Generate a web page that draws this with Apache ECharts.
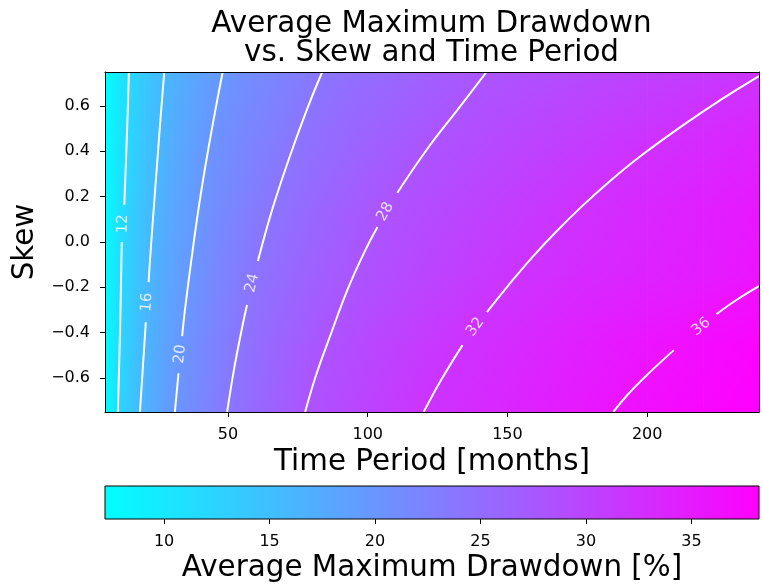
<!DOCTYPE html>
<html>
<head>
<meta charset="utf-8">
<script src="https://cdn.jsdelivr.net/npm/echarts@6/dist/echarts.min.js"></script>
<style>
  html, body { margin: 0; padding: 0; background: #fff; }
  #chart { width: 763px; height: 587px; }
</style>
</head>
<body>
<div id="chart"></div>
<script>
// grid nodes (months x skew)
const timeNodes = [6, 12, 20, 30, 45, 60, 80, 100, 120, 140, 160, 180, 200, 220, 240];
const skewNodes = [0.75, 0.45, 0.15, -0.15, -0.45, -0.75];
// average max drawdown [%] per skew row, one value per time node
const ddSkewP075 = [7.2, 10.7, 13.7, 16.5, 19.4, 21.3, 23.6, 25.1, 26.5, 27.8, 28.7, 29.5, 30.3, 31.1, 31.9];
const ddSkewP045 = [7.3, 11.0, 14.3, 17.2, 20.3, 22.4, 24.6, 26.3, 27.9, 29.0, 30.1, 31.1, 32.2, 33.1, 34.0];
const ddSkewP015 = [7.4, 11.5, 14.9, 17.8, 21.0, 23.3, 25.6, 27.6, 29.0, 30.2, 31.4, 32.5, 33.5, 34.4, 35.3];
const ddSkewM015 = [7.5, 12.0, 15.4, 18.4, 21.6, 24.2, 26.4, 28.4, 29.8, 31.3, 32.4, 33.3, 34.1, 34.9, 35.8];
const ddSkewM045 = [7.6, 12.3, 16.1, 19.1, 22.4, 24.9, 27.6, 29.5, 31.2, 32.5, 33.6, 34.7, 35.8, 36.8, 37.7];
const ddSkewM075 = [7.6, 12.6, 16.4, 19.7, 22.9, 25.5, 28.3, 30.1, 32.0, 33.2, 34.4, 35.5, 36.6, 37.4, 38.2];
const drawdownRows = [ddSkewP075, ddSkewP045, ddSkewP015, ddSkewM015, ddSkewM045, ddSkewM075];

// contour lines [months, skew]; null = gap left for the inline label
const contour12 = [[14.55, 0.75], [13.95, 0.513], [12.9, 0.164], null, [12.0, 0.0], [11.4, -0.375], [10.6, -0.75]];
const contour16 = [[27.2, 0.75], [26.1, 0.583], [24.75, 0.363], [23.4, 0.142], [22.1, -0.079], [21.6, -0.177], null,
  [20.6, -0.354], [19.7, -0.522], [18.5, -0.75]];
const contour20 = [[48.1, 0.75], [45.5, 0.583], [42.3, 0.363], [39.4, 0.142], [36.9, -0.079], [34.6, -0.30], [33.6, -0.415], null,
  [32.3, -0.579], [31.0, -0.75]];
const contour24 = [[83.7, 0.75], [78.2, 0.583], [71.7, 0.363], [65.8, 0.142], [60.7, -0.084], null,
  [56.8, -0.278], [55.1, -0.375], [52.3, -0.552], [49.7, -0.75]];
const contour28 = [[142.5, 0.75], [132.1, 0.583], [121.1, 0.407], [110.6, 0.217], null,
  [103.5, 0.066], [99.2, -0.035], [92.7, -0.212], [86.4, -0.42], [81.5, -0.588], [77.6, -0.75]];
const contour32 = [[120.0, -0.75], [126.2, -0.61], [133.9, -0.455], null, [142.65, -0.309], [150.4, -0.19], [158.6, -0.071],
  [167.3, 0.044], [176.4, 0.155], [186.3, 0.265], [197.3, 0.376], [212.1, 0.509], [226.4, 0.628], [240, 0.732]];
const contour36 = [[187.8, -0.75], [193.8, -0.663], [201.0, -0.574], [209.5, -0.477], null,
  [224.8, -0.318], [231.9, -0.256], [240, -0.195]];
const contours = [contour12, contour16, contour20, contour24, contour28, contour32, contour36];

// inline contour labels [months, skew, level]
const contourLabels = [[12.4, 0.08, 12], [21.0, -0.266, 16], [32.9, -0.495, 20], [58.7, -0.181, 24],
  [106.3, 0.133, 28], [138.5, -0.375, 32], [219.3, -0.374, 36]];

const xTicks = [50, 100, 150, 200];
const yTicks = [-0.6, -0.4, -0.2, 0.0, 0.2, 0.4, 0.6];
const cbarTicks = [10, 15, 20, 25, 30, 35];
const cbarRange = [7.2, 38.2];

// label angle along the line (deg, counter-clockwise)
const LABEL_ROTATE = { 12: 88, 16: 86, 20: 84, 24: 76, 28: 60, 32: 53, 36: 40 };
const FONT = 'DejaVu Sans';

// matplotlib "cool": cyan -> magenta, linear in rgb
function cool(v) {
  const t = Math.min(1, Math.max(0, (v - cbarRange[0]) / (cbarRange[1] - cbarRange[0])));
  return 'rgb(' + Math.round(255 * t) + ',' + Math.round(255 * (1 - t)) + ',255)';
}

// colour stops for a value running v1 -> v2, clamped to the colour bar
function stopsFor(v1, v2) {
  const stops = [{ offset: 0, color: cool(v1) }, { offset: 1, color: cool(v2) }];
  const span = v2 - v1;
  if (span > 0) {
    [cbarRange[0], cbarRange[1]].forEach(lim => {
      const o = (lim - v1) / span;
      if (o > 0 && o < 1) stops.push({ offset: o, color: cool(lim) });
    });
  }
  return stops.sort((a, b) => a.offset - b.offset);
}

const cells = [];
for (let j = 0; j < skewNodes.length - 1; j++) {
  for (let i = 0; i < timeNodes.length - 1; i++) {
    cells.push([timeNodes[i], timeNodes[i + 1], skewNodes[j], skewNodes[j + 1],
      drawdownRows[j][i], drawdownRows[j][i + 1], drawdownRows[j + 1][i], drawdownRows[j + 1][i + 1]]);
  }
}

// each cell shaded as a plane fitted to its four corner values
function renderCell(params, api) {
  const pA = api.coord([api.value(0), api.value(2)]);
  const pB = api.coord([api.value(1), api.value(3)]);
  const x = Math.min(pA[0], pB[0]), y = Math.min(pA[1], pB[1]);
  const w = Math.abs(pB[0] - pA[0]), h = Math.abs(pB[1] - pA[1]);
  const tl = api.value(4), tr = api.value(5), bl = api.value(6), br = api.value(7);
  const gx = ((tr - tl) + (br - bl)) / (2 * w);
  const gy = ((bl - tl) + (br - tr)) / (2 * h);
  const vc = (tl + tr + bl + br) / 4;
  const cx = x + w / 2, cy = y + h / 2;
  const g = Math.hypot(gx, gy);
  let fill = cool(vc);
  if (g > 1e-9) {
    const L = Math.hypot(w, h) / 2;
    const ux = gx / g, uy = gy / g;
    fill = {
      type: 'linear', global: true,
      x: cx - ux * L, y: cy - uy * L, x2: cx + ux * L, y2: cy + uy * L,
      colorStops: stopsFor(vc - g * L, vc + g * L),
    };
  }
  return { type: 'rect', shape: { x: x, y: y, width: w + 0.7, height: h + 0.7 }, style: { fill: fill } };
}

function renderColorbar(params, api) {
  const pA = api.coord([api.value(0), 1]);
  const pB = api.coord([api.value(1), 0]);
  return {
    type: 'rect',
    shape: { x: pA[0], y: pA[1], width: pB[0] - pA[0], height: pB[1] - pA[1] },
    style: {
      fill: { type: 'linear', x: 0, y: 0, x2: 1, y2: 0, colorStops: stopsFor(api.value(0), api.value(1)) },
      stroke: '#000', lineWidth: 1,
    },
  };
}

const minus = v => Number(v).toFixed(1).replace('-', '\u2212');

const tickLabel = { fontFamily: FONT, fontSize: 16, color: '#000' };
const axisName = { fontFamily: FONT, fontSize: 29.4, color: '#000' };
const blackLine = { lineStyle: { color: '#000', width: 1 } };

const contourSeries = [];
contours.forEach(pts => {
  let seg = [];
  const flush = () => { if (seg.length > 1) contourSeries.push(seg); seg = []; };
  pts.forEach(p => { if (p === null) flush(); else seg.push(p); });
  flush();
});

const chart = echarts.init(document.getElementById('chart'), null, { renderer: 'canvas' });
chart.setOption({
  animation: false,
  backgroundColor: '#fff',
  textStyle: { fontFamily: FONT },
  graphic: [{
    type: 'text', x: 431.5, y: 39, z: 20,
    style: {
      text: 'Average Maximum Drawdown\nvs. Skew and Time Period',
      font: '29.4px "DejaVu Sans"', lineHeight: 28.4, fill: '#000',
      textAlign: 'center', textVerticalAlign: 'middle',
    },
  }],
  grid: [
    { left: 105, top: 72, width: 654, height: 340, outerBoundsMode: 'none' },
    { left: 105, top: 486, width: 654, height: 33, outerBoundsMode: 'none' },
  ],
  xAxis: [
    {
      type: 'value', gridIndex: 0, min: 6, max: 240, z: 10,
      name: 'Time Period [months]', nameLocation: 'middle', nameGap: 36, nameTextStyle: axisName,
      axisLine: { show: true, onZero: false, ...blackLine },
      axisTick: { show: true, length: 5, customValues: xTicks, ...blackLine },
      axisLabel: { customValues: xTicks, margin: 15, ...tickLabel },
      splitLine: { show: false },
    },
    {
      type: 'value', gridIndex: 0, min: 6, max: 240, position: 'top', z: 10,
      axisLine: { show: true, onZero: false, ...blackLine },
      axisTick: { show: false }, axisLabel: { show: false }, splitLine: { show: false },
    },
    {
      type: 'value', gridIndex: 1, min: cbarRange[0], max: cbarRange[1], z: 10,
      name: 'Average Maximum Drawdown [%]', nameLocation: 'middle', nameGap: 35, nameTextStyle: axisName,
      axisLine: { show: false },
      axisTick: { show: true, length: 5, customValues: cbarTicks, ...blackLine },
      axisLabel: { customValues: cbarTicks, margin: 15, ...tickLabel },
      splitLine: { show: false },
    },
  ],
  yAxis: [
    {
      type: 'value', gridIndex: 0, min: -0.75, max: 0.75, z: 10,
      name: 'Skew', nameLocation: 'middle', nameGap: 64, nameRotate: 90, nameTextStyle: axisName,
      axisLine: { show: true, onZero: false, ...blackLine },
      axisTick: { show: true, length: 5, customValues: yTicks, ...blackLine },
      axisLabel: { customValues: yTicks, margin: 15, formatter: minus, ...tickLabel },
      splitLine: { show: false },
    },
    {
      type: 'value', gridIndex: 0, min: -0.75, max: 0.75, position: 'right', z: 10,
      axisLine: { show: true, onZero: false, ...blackLine },
      axisTick: { show: false }, axisLabel: { show: false }, splitLine: { show: false },
    },
    {
      type: 'value', gridIndex: 1, min: 0, max: 1, show: false,
    },
  ],
  series: [
    {
      type: 'custom', xAxisIndex: 0, yAxisIndex: 0, z: 1, silent: true,
      renderItem: renderCell, encode: { x: [0, 1], y: [2, 3] },
      data: cells,
    },
    ...contourSeries.map(seg => ({
      type: 'line', xAxisIndex: 0, yAxisIndex: 0, z: 3, silent: true,
      data: seg, showSymbol: false, symbol: 'none', smooth: 0.4, clip: true,
      lineStyle: { color: '#fff', width: 2 },
    })),
    {
      type: 'scatter', xAxisIndex: 0, yAxisIndex: 0, z: 4, silent: true,
      symbolSize: 0,
      data: contourLabels.map(d => ({
        value: d,
        label: { rotate: LABEL_ROTATE[d[2]] },
      })),
      label: {
        show: true, position: 'inside', color: '#fff',
        fontFamily: FONT, fontSize: 15,
        formatter: p => String(p.value[2]),
      },
    },
    {
      type: 'custom', xAxisIndex: 2, yAxisIndex: 2, z: 1, silent: true,
      renderItem: renderColorbar, encode: { x: [0, 1] },
      data: [cbarRange],
    },
  ],
});
</script>
</body>
</html>
